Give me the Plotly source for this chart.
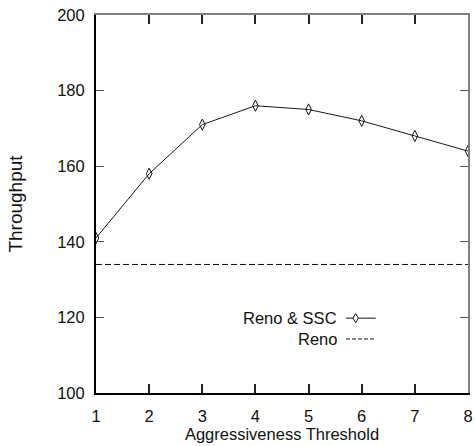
import plotly.graph_objects as go

# Throughput vs. aggressiveness threshold
thresholds = [1, 2, 3, 4, 5, 6, 7, 8]
reno_ssc = [141, 158, 171, 176, 175, 172, 168, 164]
reno = [134, 134, 134, 134, 134, 134, 134, 134]
y_ticks = [100, 120, 140, 160, 180, 200]

FONT = "Liberation Sans, Arial, Helvetica, sans-serif"
TXT = "#111111"

fig = go.Figure()

fig.add_trace(go.Scatter(
    x=thresholds, y=reno_ssc, mode="lines+markers", name="Reno & SSC",
    line=dict(color="#1a1a1a", width=1),
    marker=dict(symbol="diamond-tall-open", size=8, color="#111",
                line=dict(width=1, color="#111")),
    showlegend=False,
))
fig.add_trace(go.Scatter(
    x=thresholds, y=reno, mode="lines", name="Reno",
    line=dict(color="#111", width=1, dash="6px,3px"),
    showlegend=False,
))
# empty trace so the mirrored top/right axes get drawn
fig.add_trace(go.Scatter(x=[], y=[], xaxis="x2", yaxis="y2", showlegend=False))

tickfont = dict(family=FONT, size=16.5, color=TXT)

fig.update_layout(
    width=475, height=446,
    margin=dict(l=96, r=2, t=15, b=53),
    paper_bgcolor="white", plot_bgcolor="white",
    xaxis=dict(
        range=[1, 8], tickvals=thresholds, showgrid=False, zeroline=False,
        showline=True, linecolor="#000", linewidth=2,
        ticks="inside", ticklen=9, tickwidth=1.5, tickcolor="#222",
        tickfont=tickfont, ticklabelstandoff=7, ticklabeloverflow="allow",
        title=dict(text="Aggressiveness Threshold",
                   font=dict(family=FONT, size=16.5, color=TXT), standoff=3),
    ),
    xaxis2=dict(
        range=[1, 8], tickvals=thresholds, overlaying="x", side="top",
        anchor="y", showgrid=False, zeroline=False,
        showline=True, linecolor="#808080", linewidth=2,
        ticks="inside", ticklen=9, tickwidth=1.5, tickcolor="#222",
        showticklabels=False,
    ),
    yaxis=dict(
        range=[100, 200], tickvals=y_ticks, showgrid=False, zeroline=False,
        showline=True, linecolor="#000", linewidth=2,
        ticks="inside", ticklen=8, tickwidth=1, tickcolor="#555",
        tickfont=tickfont, ticklabelstandoff=6,
        title=dict(text="Throughput",
                   font=dict(family=FONT, size=19, color=TXT), standoff=30),
    ),
    yaxis2=dict(
        range=[100, 200], tickvals=y_ticks, overlaying="y", side="right",
        anchor="x", showgrid=False, zeroline=False,
        showline=True, linecolor="#808080", linewidth=2,
        ticks="inside", ticklen=8, tickwidth=1, tickcolor="#555",
        showticklabels=False,
    ),
)

# key: labels on the left, line samples on the right
key_font = dict(family=FONT, size=16.5, color=TXT)
fig.add_annotation(x=0.652, y=0.198, xref="paper", yref="paper", text="Reno & SSC",
                   showarrow=False, xanchor="right", yanchor="middle", font=key_font)
fig.add_annotation(x=0.652, y=0.143, xref="paper", yref="paper", text="Reno",
                   showarrow=False, xanchor="right", yanchor="middle", font=key_font)

x0, x1 = 0.672, 0.752
fig.add_shape(type="line", xref="paper", yref="paper", x0=x0, x1=x1, y0=0.198, y1=0.198,
              line=dict(color="#111", width=1))
fig.add_shape(type="line", xref="paper", yref="paper", x0=x0, x1=x1, y0=0.143, y1=0.143,
              line=dict(color="#111", width=1, dash="4px,2px"))
# diamond glyph on the first sample
cx, cy = 0.698, 0.198
dx, dy = 2.8 / 377, 4.5 / 378
fig.add_shape(type="path", xref="paper", yref="paper",
              path=f"M {cx} {cy + dy} L {cx + dx} {cy} L {cx} {cy - dy} L {cx - dx} {cy} Z",
              line=dict(color="#111", width=1), fillcolor="white")

fig.write_html("out.html")
